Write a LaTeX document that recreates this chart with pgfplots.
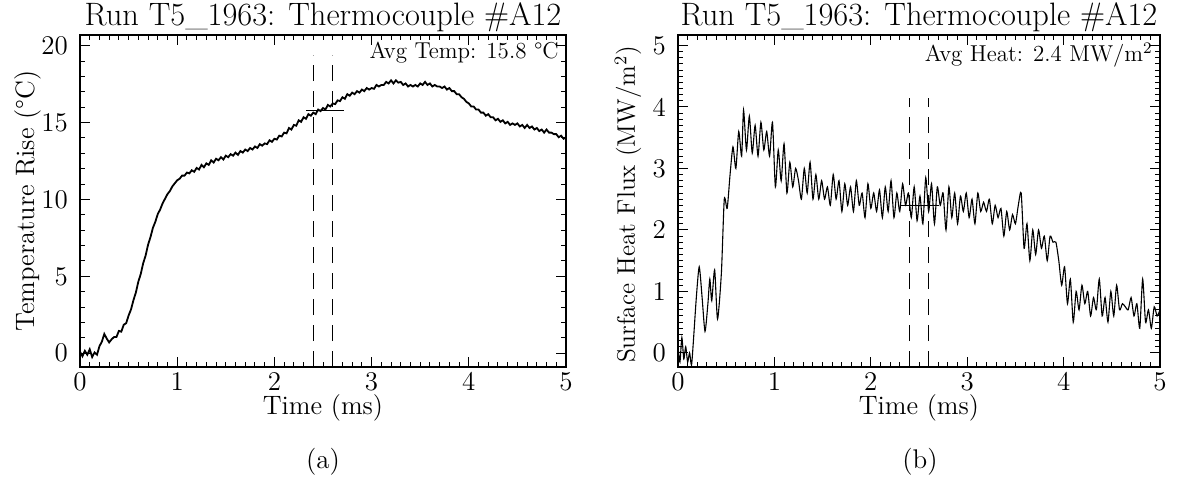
\documentclass[border=0pt]{standalone}
\usepackage{pgfplots}
\pgfplotsset{compat=1.18}
\pgfplotstableread{
x y
0.000 0.1
0.025 -0.2
0.050 0.15
0.075 -0.1
0.100 0.25
0.125 -0.25
0.150 0.05
0.175 -0.1
0.200 0.45
0.225 0.75
0.250 1.25
0.275 0.95
0.300 0.7
0.325 0.9
0.350 1.05
0.375 1.05
0.400 1.45
0.425 1.4
0.450 1.85
0.475 1.95
0.500 2.45
0.525 2.85
0.550 3.45
0.575 3.95
0.600 4.65
0.625 5.15
0.650 5.85
0.675 6.35
0.700 7.05
0.725 7.55
0.750 8.15
0.775 8.55
0.800 9.05
0.825 9.35
0.850 9.75
0.875 10.05
0.900 10.35
0.925 10.55
0.950 10.85
0.975 11.05
1.000 11.25
1.025 11.35
1.050 11.55
1.075 11.55
1.100 11.75
1.125 11.7
1.150 11.9
1.175 11.8
1.200 12.05
1.225 11.95
1.250 12.25
1.275 12.1
1.300 12.35
1.325 12.25
1.350 12.55
1.375 12.4
1.400 12.65
1.425 12.55
1.450 12.75
1.475 12.6
1.500 12.85
1.525 12.75
1.550 12.95
1.575 12.85
1.600 13.05
1.625 12.9
1.650 13.15
1.675 13.05
1.700 13.25
1.725 13.15
1.750 13.35
1.775 13.25
1.800 13.45
1.825 13.35
1.850 13.6
1.875 13.5
1.900 13.65
1.925 13.6
1.950 13.85
1.975 13.75
2.000 13.95
2.025 13.9
2.050 14.15
2.075 14.1
2.100 14.35
2.125 14.3
2.150 14.65
2.175 14.55
2.200 14.85
2.225 14.8
2.250 15.15
2.275 15.05
2.300 15.35
2.325 15.25
2.350 15.55
2.375 15.45
2.400 15.65
2.425 15.55
2.450 15.85
2.475 15.75
2.500 15.95
2.525 15.85
2.550 16.15
2.575 16.05
2.600 16.25
2.625 16.2
2.650 16.45
2.675 16.4
2.700 16.65
2.725 16.55
2.750 16.85
2.775 16.75
2.800 16.95
2.825 16.85
2.850 17.05
2.875 16.95
2.900 17.15
2.925 17.05
2.950 17.25
2.975 17.15
3.000 17.25
3.025 17.2
3.050 17.45
3.075 17.35
3.100 17.45
3.125 17.45
3.150 17.65
3.175 17.55
3.200 17.75
3.225 17.55
3.250 17.75
3.275 17.6
3.300 17.65
3.325 17.45
3.350 17.55
3.375 17.35
3.400 17.45
3.425 17.35
3.450 17.45
3.475 17.35
3.500 17.55
3.525 17.45
3.550 17.65
3.575 17.45
3.600 17.55
3.625 17.35
3.650 17.45
3.675 17.35
3.700 17.35
3.725 17.25
3.750 17.35
3.775 17.15
3.800 17.25
3.825 17.05
3.850 17.05
3.875 16.85
3.900 16.85
3.925 16.65
3.950 16.55
3.975 16.35
4.000 16.25
4.025 16.05
4.050 16.05
4.075 15.85
4.100 15.85
4.125 15.65
4.150 15.65
4.175 15.45
4.200 15.55
4.225 15.35
4.250 15.35
4.275 15.15
4.300 15.25
4.325 15.05
4.350 15.15
4.375 14.95
4.400 15.05
4.425 14.85
4.450 14.95
4.475 14.85
4.500 14.95
4.525 14.75
4.550 14.85
4.575 14.65
4.600 14.85
4.625 14.65
4.650 14.75
4.675 14.55
4.700 14.65
4.725 14.45
4.750 14.55
4.775 14.35
4.800 14.55
4.825 14.35
4.850 14.35
4.875 14.25
4.900 14.25
4.925 14.05
4.950 14.15
4.975 13.95
5.000 14.05
}\temptable
\pgfplotstableread{
x y
0.00 0.1
0.02 -0.15
0.04 0.25
0.06 -0.1
0.08 0.1
0.10 -0.15
0.12 0.0
0.14 -0.2
0.16 0.2
0.19 0.9
0.22 1.4
0.25 0.9
0.28 0.35
0.31 0.8
0.33 1.2
0.35 0.85
0.38 1.35
0.41 0.55
0.45 1.3
0.48 2.5
0.51 2.35
0.54 2.9
0.57 3.35
0.60 3.0
0.63 3.6
0.66 3.2
0.68 3.95
0.71 3.3
0.74 3.85
0.77 3.25
0.80 3.7
0.83 3.2
0.86 3.75
0.89 3.3
0.92 3.6
0.95 3.2
0.98 3.75
1.01 2.7
1.04 3.3
1.07 2.8
1.10 3.4
1.13 2.6
1.16 3.1
1.19 2.7
1.22 3.0
1.25 2.8
1.28 2.5
1.31 3.0
1.34 2.6
1.37 3.1
1.40 2.5
1.43 2.9
1.46 2.5
1.49 2.8
1.52 2.5
1.55 2.7
1.58 2.4
1.61 2.9
1.64 2.5
1.67 2.8
1.70 2.3
1.73 2.75
1.76 2.4
1.79 2.7
1.82 2.3
1.85 2.8
1.88 2.4
1.91 2.6
1.94 2.2
1.97 2.75
2.00 2.35
2.03 2.6
2.06 2.3
2.09 2.65
2.12 2.2
2.15 2.7
2.18 2.3
2.21 2.8
2.24 2.2
2.27 2.6
2.30 2.3
2.33 2.75
2.36 2.4
2.39 2.6
2.42 2.2
2.45 2.7
2.48 2.15
2.51 2.55
2.54 2.1
2.57 2.85
2.60 2.3
2.63 2.75
2.66 2.1
2.69 2.7
2.72 2.4
2.75 2.6
2.78 2.0
2.81 2.7
2.84 2.2
2.87 2.6
2.90 2.1
2.93 2.55
2.96 2.3
2.99 2.6
3.02 2.2
3.05 2.5
3.08 2.1
3.11 2.6
3.14 2.3
3.17 2.45
3.20 2.3
3.23 2.5
3.26 2.1
3.29 2.4
3.32 2.2
3.35 2.35
3.38 1.9
3.41 2.3
3.44 2.0
3.47 2.25
3.50 2.1
3.53 2.4
3.56 2.6
3.59 1.7
3.62 2.1
3.65 1.5
3.68 2.0
3.71 1.6
3.74 2.0
3.77 1.7
3.80 1.9
3.83 1.5
3.86 1.9
3.89 1.8
3.92 1.8
3.95 1.5
3.98 1.1
4.01 1.4
4.04 0.8
4.07 1.2
4.10 0.5
4.13 1.0
4.16 0.7
4.19 1.1
4.22 0.8
4.25 1.0
4.28 0.6
4.31 0.9
4.34 0.7
4.37 1.2
4.40 0.6
4.43 0.9
4.46 0.5
4.49 1.0
4.52 0.6
4.55 1.1
4.58 0.7
4.61 0.8
4.64 0.75
4.67 0.7
4.70 0.9
4.73 0.6
4.76 0.8
4.79 0.4
4.82 1.2
4.85 0.5
4.88 0.7
4.91 0.4
4.94 0.75
4.97 0.6
5.00 0.7
}\fluxtable
\begin{document}
\begin{tikzpicture}
\useasboundingbox (0,0) rectangle (593pt,247.5pt);
\pgfplotsset{
  idl/.style={
    scale only axis,
    anchor=south west,
    xmin=0, xmax=5,
    xtick={0,1,2,3,4,5},
    minor x tick num=9,
    major tick length=5pt,
    minor tick length=2.5pt,
    tick align=inside,
    tick style={black, line width=0.5pt},
    axis line style={line width=0.6pt},
    /pgf/number format/assume math mode=true,
    tick label style={font=\fontsize{13.5}{15}\selectfont},
    label style={font=\fontsize{13.3}{15}\selectfont},
    xticklabel style={yshift=1pt},
    yticklabel style={xshift=-2.5pt},
    title style={font=\fontsize{16.2}{19}\selectfont, yshift=-8pt},
    xlabel={Time (ms)},
    xlabel style={yshift=5pt},
    title={Run T5\_1963: Thermocouple \#A12},
  }
}
\begin{axis}[idl,
  at={(40pt,64pt)}, width=243pt, height=166pt,
  ymin=-0.9, ymax=20.7,
  ytick={0,5,10,15,20},
  minor y tick num=4,
  ylabel={Temperature Rise (°C)},
  ylabel style={at={(axis description cs:-0.107,0.5)}, anchor=center},
]
\addplot[black, line width=0.9pt] table[x=x,y=y] {\temptable};
\addplot[black, line width=0.5pt, dash pattern=on 8pt off 5pt] coordinates {(2.4,-0.9) (2.4,19.4)};
\addplot[black, line width=0.5pt, dash pattern=on 8pt off 5pt] coordinates {(2.6,-0.9) (2.6,19.4)};
\addplot[black, line width=0.6pt] coordinates {(2.33,15.8) (2.72,15.8)};
\node[anchor=north east, font=\fontsize{11.5}{13}\selectfont, inner sep=1pt] at (rel axis cs:0.99,0.985) {Avg Temp: 15.8 °C};
\end{axis}
\begin{axis}[idl,
  at={(339pt,64pt)}, width=241pt, height=166pt,
  ymin=-0.23, ymax=5.17,
  ytick={0,1,2,3,4,5},
  minor y tick num=9,
  ylabel={Surface Heat Flux (MW/m\textsuperscript{2})},
  ylabel style={at={(axis description cs:-0.104,0.49)}, anchor=center, font=\fontsize{12.7}{15}\selectfont},
]
\addplot[black, line width=0.55pt, smooth, tension=0.4] table[x=x,y=y] {\fluxtable};
\addplot[black, line width=0.5pt, dash pattern=on 8pt off 5pt] coordinates {(2.4,-0.23) (2.4,4.15)};
\addplot[black, line width=0.5pt, dash pattern=on 8pt off 5pt] coordinates {(2.6,-0.23) (2.6,4.15)};
\addplot[black, line width=0.6pt] coordinates {(2.31,2.4) (2.71,2.4)};
\node[anchor=north east, font=\fontsize{11.5}{13}\selectfont, inner sep=1pt] at (rel axis cs:0.99,0.985) {Avg Heat: 2.4 MW/m\textsuperscript{2}};
\end{axis}
\node[font=\fontsize{13.5}{15}\selectfont] at (161.5pt,16.5pt) {(a)};
\node[font=\fontsize{13.5}{15}\selectfont] at (460pt,16.5pt) {(b)};
\end{tikzpicture}
\end{document}
